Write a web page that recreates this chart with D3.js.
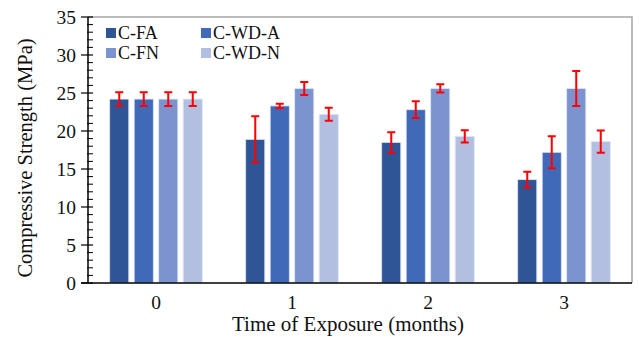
<!DOCTYPE html>
<html>
<head>
<meta charset="utf-8">
<script src="https://cdn.jsdelivr.net/npm/d3@7"></script>
<style>
  html, body { margin: 0; padding: 0; background: #fff; }
  svg { display: block; font-family: "Liberation Serif", "Times New Roman", serif; }
</style>
</head>
<body>
<svg id="chart" width="639" height="337"></svg>
<script>
// Compressive strength by exposure time, four mixes, with error bars
const categories = ["0", "1", "2", "3"];
const seriesNames = ["C-FA", "C-WD-A", "C-FN", "C-WD-N"];
const seriesColors = ["#2F5597", "#4069B8", "#7B93CF", "#B3BFE1"];
const meanFA   = [24.2, 18.9, 18.5, 13.6];
const meanWDA  = [24.2, 23.3, 22.8, 17.2];
const meanFN   = [24.2, 25.6, 25.6, 25.6];
const meanWDN  = [24.2, 22.2, 19.3, 18.6];
const errFA    = [0.9, 3.05, 1.35, 1.05];
const errWDA   = [0.9, 0.3, 1.1, 2.1];
const errFN    = [0.9, 0.85, 0.55, 2.3];
const errWDN   = [0.9, 0.85, 0.8, 1.45];
const yTicks = [0, 5, 10, 15, 20, 25, 30, 35];

const means = [meanFA, meanWDA, meanFN, meanWDN];
const errs = [errFA, errWDA, errFN, errWDN];

const svg = d3.select("#chart");
const plotL = 88, plotR = 632, plotT = 17, plotB = 283;

const x = d3.scaleBand().domain(categories).range([plotL, plotR]).padding(0);
const xs = d3.scaleBand().domain(seriesNames).range([19, 117]).paddingInner(0.22).paddingOuter(0.11);
const y = d3.scaleLinear().domain([0, 35]).range([plotB, plotT]);

// plot frame (top and right)
svg.append("path")
  .attr("d", `M${plotL},${plotT}H${plotR}V${plotB}`)
  .attr("fill", "none").attr("stroke", "#a6a6a6").attr("stroke-width", 1.5);

// bars
const rows = [];
seriesNames.forEach((s, si) => categories.forEach((c, ci) => {
  rows.push({ s, si, c, v: means[si][ci], e: errs[si][ci] });
}));

svg.append("g").selectAll("rect").data(rows).join("rect")
  .attr("x", d => x(d.c) + xs(d.s))
  .attr("width", xs.bandwidth())
  .attr("y", d => y(d.v))
  .attr("height", d => y(0) - y(d.v))
  .attr("fill", d => seriesColors[d.si])
  .attr("stroke", "#dfe6f4").attr("stroke-width", 0.8);

// error bars
const eg = svg.append("g").attr("stroke", "#ff0000").attr("stroke-width", 2).attr("fill", "none");
eg.selectAll("path").data(rows).join("path")
  .attr("d", d => {
    const cx = x(d.c) + xs(d.s) + xs.bandwidth() / 2;
    const y1 = y(d.v + d.e), y2 = y(d.v - d.e);
    return `M${cx - 4},${y1}H${cx + 4}M${cx},${y1}V${y2}M${cx - 4},${y2}H${cx + 4}`;
  });

// y axis
const yAxis = svg.append("g").attr("transform", `translate(${plotL},0)`);
yAxis.append("line").attr("y1", plotT).attr("y2", plotB).attr("stroke", "#000").attr("stroke-width", 1.5);
const minor = d3.range(0, 36, 1).filter(v => v % 5 !== 0);
yAxis.selectAll("line.minor").data(minor).join("line").attr("class", "minor")
  .attr("x1", -1).attr("x2", 5).attr("y1", d => y(d)).attr("y2", d => y(d))
  .attr("stroke", "#000").attr("stroke-width", 1);
yAxis.selectAll("line.major").data(yTicks).join("line").attr("class", "major")
  .attr("x1", -7).attr("x2", 5).attr("y1", d => y(d)).attr("y2", d => y(d))
  .attr("stroke", "#000").attr("stroke-width", 1.2);
yAxis.selectAll("text").data(yTicks).join("text")
  .attr("x", -12).attr("y", d => y(d)).attr("dy", "0.34em")
  .attr("text-anchor", "end").attr("font-size", 19.5).attr("fill", "#111")
  .text(d => d);

// x axis
const xAxis = svg.append("g");
xAxis.append("line").attr("x1", plotL - 7).attr("x2", plotR).attr("y1", plotB).attr("y2", plotB)
  .attr("stroke", "#000").attr("stroke-width", 1.5);
xAxis.selectAll("text").data(categories).join("text")
  .attr("x", d => x(d) + x.bandwidth() / 2).attr("y", 309)
  .attr("text-anchor", "middle").attr("font-size", 19.5).attr("fill", "#111")
  .text(d => d);

// axis titles
svg.append("text").attr("x", 348).attr("y", 331).attr("text-anchor", "middle")
  .attr("font-size", 21).attr("fill", "#111").text("Time of Exposure (months)");
svg.append("text").attr("transform", "translate(32,158) rotate(-90)").attr("text-anchor", "middle")
  .attr("font-size", 20.5).attr("fill", "#111").text("Compressive Strength (MPa)");

// legend
const legendPos = [[106, 33], [201, 33], [106, 53], [201, 53]];
const lg = svg.append("g").selectAll("g").data(seriesNames).join("g")
  .attr("transform", (d, i) => `translate(${legendPos[i][0]},${legendPos[i][1]})`);
lg.append("rect").attr("x", 0).attr("y", -5).attr("width", 10).attr("height", 10)
  .attr("fill", (d, i) => seriesColors[i]);
lg.append("text").attr("x", 12).attr("y", 0).attr("dy", "0.35em")
  .attr("font-size", 18).attr("fill", "#111").text(d => d);
</script>
</body>
</html>
